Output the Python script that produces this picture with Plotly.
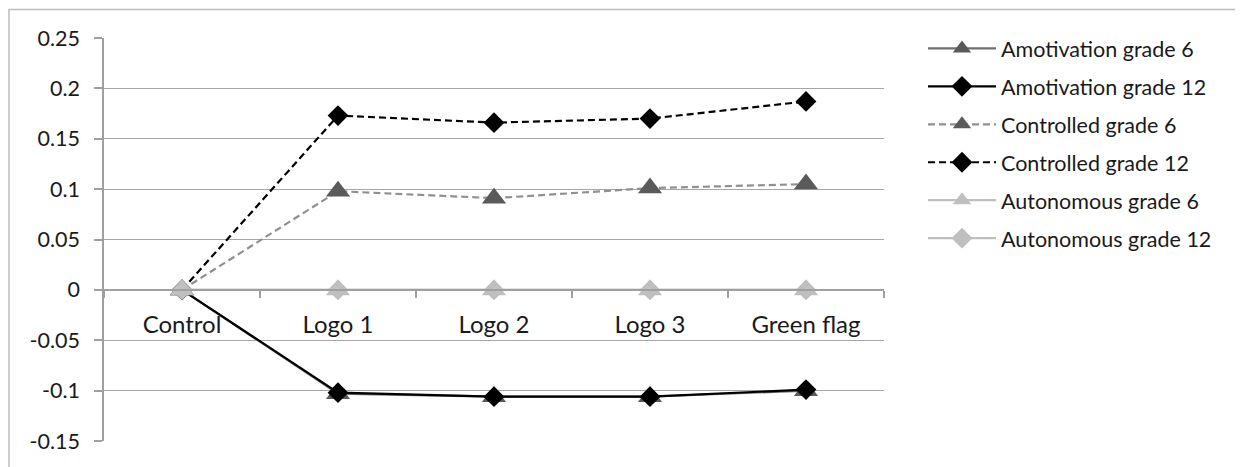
import plotly.graph_objects as go

categories = ["Control", "Logo 1", "Logo 2", "Logo 3", "Green flag"]
amot_g6 = [0, -0.103, -0.106, -0.106, -0.100]
amot_g12 = [0, -0.102, -0.106, -0.106, -0.099]
ctrl_g6 = [0, 0.098, 0.091, 0.101, 0.105]
ctrl_g12 = [0, 0.173, 0.166, 0.170, 0.187]
auto_g6 = [0, 0, 0, 0, 0]
auto_g12 = [0, 0, 0, 0, 0]

y_tickvals = [0.25, 0.2, 0.15, 0.1, 0.05, 0, -0.05, -0.1, -0.15]
y_ticktext = ["0.25", "0.2", "0.15", "0.1", "0.05", "0", "-0.05", "-0.1", "-0.15"]

FONT = "Lato"
TXT = "#1a1a1a"
series = [
    # name, data, line color, marker color, dash, symbol, size, rank
    ("Amotivation grade 6", amot_g6, "#707070", "#5a5a5a", "solid", "triangle-up", 21, 1),
    ("Amotivation grade 12", amot_g12, "#000000", "#000000", "solid", "diamond", 16, 2),
    ("Controlled grade 6", ctrl_g6, "#909090", "#5a5a5a", "7px,4px", "triangle-up", 21, 3),
    ("Controlled grade 12", ctrl_g12, "#000000", "#000000", "7px,4px", "diamond", 16, 4),
    ("Autonomous grade 12", auto_g12, "#bfbfbf", "#bfbfbf", "solid", "diamond", 16, 6),
    ("Autonomous grade 6", auto_g6, "#bfbfbf", "#bfbfbf", "solid", "triangle-up", 21, 5),
]

fig = go.Figure()
for name, data, lc, mc, dash, sym, size, rank in series:
    fig.add_trace(go.Scatter(
        x=categories, y=data, name=name, mode="lines+markers",
        line=dict(color=lc, width=2.2, dash=dash),
        marker=dict(symbol=sym, size=size, color=mc, line=dict(width=0)),
        legendrank=rank, legendgroup=name,
    ))

fig.update_layout(
    width=1243, height=467,
    margin=dict(l=96, r=367, t=29.5, b=33.5),
    paper_bgcolor="white", plot_bgcolor="white",
    font=dict(family=FONT, size=21, color=TXT),
    showlegend=True,
    legend=dict(
        x=1.05, xanchor="left", y=1.025, yanchor="top",
        font=dict(family=FONT, size=21.5, color=TXT),
        itemwidth=68, tracegroupgap=7, bgcolor="rgba(0,0,0,0)",
    ),
    xaxis=dict(
        type="category", range=[-0.5, 4.5],
        anchor="free", position=0.375,
        showline=True, linecolor="#a0a0a0", linewidth=1.5,
        ticks="outside", ticklen=7, tickcolor="#a0a0a0", tickwidth=1.5,
        tickson="boundaries", showgrid=False, zeroline=False,
        ticklabelstandoff=14,
        tickfont=dict(family=FONT, size=24, color=TXT),
    ),
    yaxis=dict(
        range=[-0.15, 0.25], tickvals=y_tickvals, ticktext=y_ticktext,
        showline=True, linecolor="#a0a0a0", linewidth=1.5,
        ticks="outside", ticklen=8, tickcolor="#a0a0a0", tickwidth=1.5,
        showgrid=True, gridcolor="#a6a6a6", gridwidth=1.2, zeroline=False,
        ticklabelstandoff=10,
        tickfont=dict(family=FONT, size=21.5, color=TXT),
    ),
    shapes=[dict(
        type="rect", xref="paper", yref="paper",
        x0=-0.1218, x1=1.4564, y0=-0.2, y1=1.0705,
        line=dict(color="#bdbdbd", width=1.5), fillcolor="rgba(0,0,0,0)",
        layer="below",
    )],
)

fig.write_html("out.html")
